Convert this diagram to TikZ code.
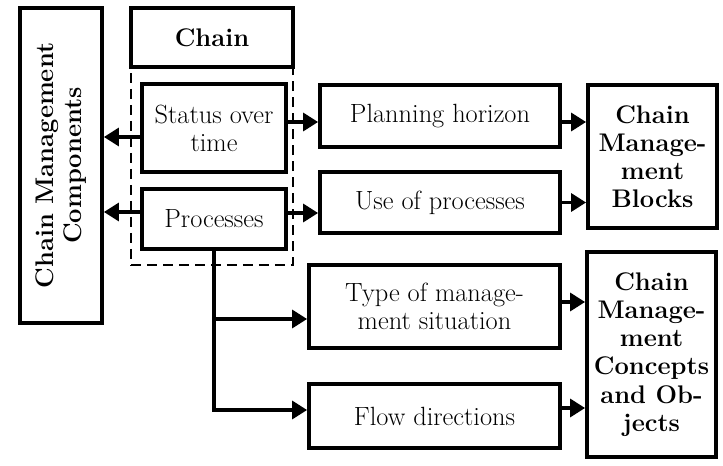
\documentclass[tikz,border=0pt]{standalone}
\usepackage{tikz}
\usetikzlibrary{arrows.meta,positioning}
\tikzset{
  chainbox/.style={
    rectangle,
    draw=black,
    line width=2.2pt,
    align=center,
    inner sep=2pt,
    font=\fontsize{15}{16}\selectfont
  },
  chainhead/.style={
    chainbox,
    font=\fontsize{14.5}{16}\selectfont\bfseries
  },
  chaingroup/.style={
    rectangle,
    draw=black,
    line width=1.4pt,
    dash pattern=on 0.2cm off 0.12cm
  },
  chainarrow/.style={
    -{Triangle[length=0.3cm,width=0.36cm]},
    line width=1.9pt,
    draw=black
  }
}

\begin{document}
\begin{tikzpicture}[x=0.02cm, y=-0.02cm]
\useasboundingbox (0,0) rectangle (723,466);

% dashed group behind the two inner boxes
\node[chaingroup, minimum width=3.24cm, minimum height=3.96cm] (group) at (212,166) {};

\node[chainhead, rotate=90, minimum width=6.3cm, minimum height=1.64cm] (components) at (61,165.5) {Chain Management\\Components};
\node[chainhead, minimum width=3.24cm, minimum height=1.18cm] (chain) at (212,37.5) {Chain};
\node[chainbox, minimum width=2.88cm, minimum height=1.76cm] (status) at (214,128) {Status over\\time};
\node[chainbox, minimum width=2.88cm, minimum height=1.2cm] (procs) at (214,219) {Processes};

\node[chainbox, minimum width=4.8cm, minimum height=1.24cm] (horizon) at (440,116) {Planning horizon};
\node[chainbox, minimum width=4.8cm, minimum height=1.22cm] (useproc) at (440,202.5) {Use of processes};
\node[chainbox, minimum width=5.02cm, minimum height=1.66cm] (mgmttype) at (434.5,306.5) {Type of manage-\\ment situation};
\node[chainbox, minimum width=5.02cm, minimum height=1.28cm] (flowdir) at (434.5,416) {Flow directions};

\node[chainhead, minimum width=2.58cm, minimum height=2.86cm] (blocks) at (652.5,156.5) {Chain\\Manage-\\ment\\Blocks};
\node[chainhead, minimum width=2.58cm, minimum height=4.1cm] (concepts) at (651.5,354.5) {Chain\\Manage-\\ment\\Concepts\\and Ob-\\jects};

% to the left
\draw[chainarrow] ([yshift=-0.18cm]status.west) -- ([yshift=-0.18cm]status.west -| components.south);
\draw[chainarrow] ([yshift=0.14cm]procs.west) -- ([yshift=0.14cm]procs.west -| components.south);

% to the right
\draw[chainarrow] ([yshift=0.12cm]status.east) -- ([yshift=0.12cm]status.east -| horizon.west);
\draw[chainarrow] ([yshift=0.12cm]procs.east) -- ([yshift=0.12cm]procs.east -| useproc.west);
\draw[chainarrow] ([yshift=-0.12cm]horizon.east) -- ([yshift=-0.12cm]horizon.east -| blocks.west);
\draw[chainarrow] (useproc.east) -- (useproc.east -| blocks.west);

% down from processes
\draw[chainarrow] (procs.south) |- ([yshift=0.12cm]flowdir.west);
\draw[chainarrow] ([yshift=-0.25cm]mgmttype.west -| procs.south) -- ([yshift=-0.25cm]mgmttype.west);
\draw[chainarrow] ([yshift=0.09cm]mgmttype.east) -- ([yshift=0.09cm]mgmttype.east -| concepts.west);
\draw[chainarrow] ([yshift=0.16cm]flowdir.east) -- ([yshift=0.16cm]flowdir.east -| concepts.west);
\end{tikzpicture}
\end{document}
